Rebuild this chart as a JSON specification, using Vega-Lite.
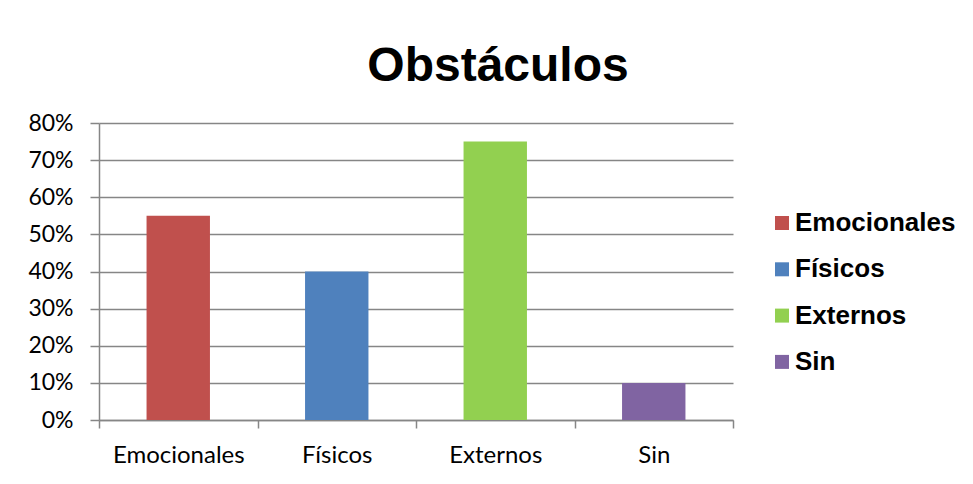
{
  "$schema": "https://vega.github.io/schema/vega-lite/v6.json",
  "width": 634,
  "height": 297,
  "autosize": {"type": "none"},
  "padding": {"left": 99, "top": 123, "right": 240, "bottom": 64},
  "background": "white",
  "title": {
    "text": "Obstáculos",
    "font": "Liberation Sans",
    "fontSize": 48,
    "fontWeight": "bold",
    "color": "black",
    "anchor": "middle",
    "frame": "group",
    "dx": 82,
    "baseline": "alphabetic",
    "offset": -17
  },
  "data": {
    "values": [
      {"categoria": "Emocionales", "valor": 0.55},
      {"categoria": "Físicos", "valor": 0.40},
      {"categoria": "Externos", "valor": 0.75},
      {"categoria": "Sin", "valor": 0.10}
    ]
  },
  "mark": {"type": "bar", "width": {"band": 0.4}},
  "encoding": {
    "x": {
      "field": "categoria",
      "type": "nominal",
      "sort": ["Emocionales", "Físicos", "Externos", "Sin"],
      "scale": {"paddingInner": 0, "paddingOuter": 0},
      "axis": {
        "title": null,
        "labelAngle": 0,
        "tickBand": "extent",
        "labelFont": "Lato",
        "labelFontSize": 24,
        "labelColor": "black",
        "labelPadding": 15,
        "tickSize": 8,
        "tickColor": "#868686",
        "tickWidth": 1.5,
        "domainColor": "#868686",
        "domainWidth": 1.5,
        "grid": false
      }
    },
    "y": {
      "field": "valor",
      "type": "quantitative",
      "scale": {"domain": [0, 0.8]},
      "axis": {
        "title": null,
        "format": ".0%",
        "values": [0, 0.1, 0.2, 0.3, 0.4, 0.5, 0.6, 0.7, 0.8],
        "labelFont": "Lato",
        "labelFontSize": 23,
        "labelColor": "black",
        "labelPadding": 17,
        "tickSize": 9,
        "tickColor": "#868686",
        "tickWidth": 1.5,
        "domainColor": "#868686",
        "domainWidth": 1.5,
        "grid": true,
        "gridColor": "#868686",
        "gridWidth": 1.5
      }
    },
    "color": {
      "field": "categoria",
      "type": "nominal",
      "sort": ["Emocionales", "Físicos", "Externos", "Sin"],
      "scale": {
        "domain": ["Emocionales", "Físicos", "Externos", "Sin"],
        "range": ["#C0504D", "#4F81BD", "#92D050", "#8064A2"]
      },
      "legend": {
        "title": null,
        "orient": "none",
        "legendX": 670,
        "legendY": 87,
        "symbolType": "square",
        "symbolSize": 196,
        "symbolStrokeWidth": 0,
        "labelFont": "Liberation Sans",
        "labelFontSize": 26,
        "labelFontWeight": "bold",
        "labelColor": "black",
        "labelOffset": 0,
        "rowPadding": 20.3,
        "labelLimit": 300
      }
    }
  },
  "config": {
    "view": {"stroke": null}
  }
}
